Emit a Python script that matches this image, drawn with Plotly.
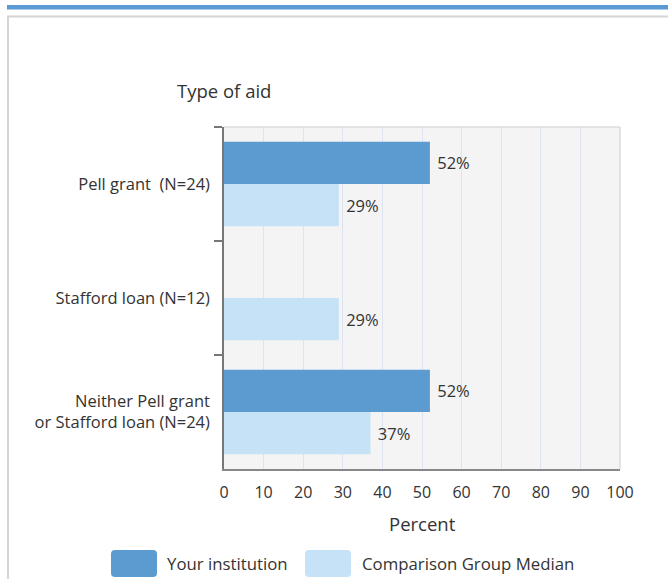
import plotly.graph_objects as go

categories = ["Pell grant\u00a0\u00a0(N=24)", "Stafford loan (N=12)", "Neither Pell grant<br>or Stafford loan (N=24)"]
your_institution = [52, None, 52]
comparison_median = [29, 29, 37]
series_names = ["Your institution", "Comparison Group Median"]
x_ticks = [0, 10, 20, 30, 40, 50, 60, 70, 80, 90, 100]

DARK = "#5B9BD0"
LIGHT = "#C5E2F6"
TXT = "#333333"
FONT = "Open Sans, Arial, sans-serif"

W, H = 668, 579
def px(x):
    return x / W
def py(y):
    return 1 - y / H

def lbl(v):
    return "" if v is None else f"\u00a0{v}%"

def rounded_rect(x0, y0, x1, y1, r):
    X = lambda v: px(v)
    Y = lambda v: py(v)
    return (f"M {X(x0+r)},{Y(y0)} L {X(x1-r)},{Y(y0)} Q {X(x1)},{Y(y0)} {X(x1)},{Y(y0+r)} "
            f"L {X(x1)},{Y(y1-r)} Q {X(x1)},{Y(y1)} {X(x1-r)},{Y(y1)} "
            f"L {X(x0+r)},{Y(y1)} Q {X(x0)},{Y(y1)} {X(x0)},{Y(y1-r)} "
            f"L {X(x0)},{Y(y0+r)} Q {X(x0)},{Y(y0)} {X(x0+r)},{Y(y0)} Z")

fig = go.Figure()
fig.add_trace(go.Bar(
    y=categories, x=your_institution, orientation="h", name=series_names[0],
    marker=dict(color=DARK, line=dict(width=0)),
    text=[lbl(v) for v in your_institution], textposition="outside",
    textfont=dict(size=16.5, color=TXT), cliponaxis=False, showlegend=False,
))
fig.add_trace(go.Bar(
    y=categories, x=comparison_median, orientation="h", name=series_names[1],
    marker=dict(color=LIGHT, line=dict(width=0)),
    text=[lbl(v) for v in comparison_median], textposition="outside",
    textfont=dict(size=16.5, color=TXT), cliponaxis=False, showlegend=False,
))

shapes = [
    dict(type="rect", xref="paper", yref="paper", x0=px(7), x1=1, y0=py(9.5), y1=py(5),
         fillcolor="#5B9BD5", line=dict(width=0), layer="below"),
    dict(type="line", xref="paper", yref="paper", x0=px(7), x1=1, y0=py(16.5), y1=py(16.5),
         line=dict(color="#D4D4D4", width=2)),
    dict(type="line", xref="paper", yref="paper", x0=px(8), x1=px(8), y0=py(16.5), y1=0,
         line=dict(color="#D4D4D4", width=2)),
    dict(type="line", xref="paper", yref="paper", x0=px(224), x1=px(620), y0=py(127), y1=py(127),
         line=dict(color="#DDDDDD", width=1.5)),
    dict(type="line", xref="paper", yref="paper", x0=px(620), x1=px(620), y0=py(127), y1=py(469),
         line=dict(color="#DDDDDD", width=1.5)),
    dict(type="path", xref="paper", yref="paper", path=rounded_rect(111, 550, 157, 577, 4),
         fillcolor=DARK, line=dict(width=0)),
    dict(type="path", xref="paper", yref="paper", path=rounded_rect(305, 550, 351, 577, 4),
         fillcolor=LIGHT, line=dict(width=0)),
]

annotations = [
    dict(text="Type of aid", xref="paper", yref="paper", x=px(224), y=py(90), xanchor="center",
         yanchor="middle", showarrow=False, font=dict(size=18.5, color=TXT, family=FONT)),
    dict(text=series_names[0], xref="paper", yref="paper", x=px(165), y=py(563), xanchor="left",
         yanchor="middle", showarrow=False, font=dict(size=16.8, color=TXT, family=FONT)),
    dict(text=series_names[1], xref="paper", yref="paper", x=px(360), y=py(563), xanchor="left",
         yanchor="middle", showarrow=False, font=dict(size=16.8, color=TXT, family=FONT)),
    dict(text="Percent", xref="paper", yref="paper", x=px(422), y=py(523), xanchor="center",
         yanchor="middle", showarrow=False, font=dict(size=18.5, color=TXT, family=FONT)),
]

fig.update_layout(
    width=W, height=H,
    margin=dict(l=0, r=0, t=0, b=0),
    paper_bgcolor="white", plot_bgcolor="#F4F4F4",
    barmode="group", bargap=0.26, bargroupgap=0,
    font=dict(family=FONT, size=16, color=TXT),
    shapes=shapes, annotations=annotations,
    xaxis=dict(
        domain=[px(224), px(620)], range=[0, 100], tickvals=x_ticks,
        showgrid=True, gridcolor="#DDE3F0", gridwidth=1,
        zeroline=False, showline=True, linecolor="#888888", linewidth=1.5,
        ticks="outside", ticklen=8, tickcolor="rgba(0,0,0,0)",
        tickfont=dict(size=16, color=TXT),
        automargin=False, fixedrange=True,
    ),
    yaxis=dict(
        domain=[py(469), py(127)], autorange="reversed",
        showgrid=False, zeroline=False, showline=True, linecolor="#777777", linewidth=1.5,
        ticks="outside", tickson="boundaries", ticklen=8, tickcolor="#777777", tickwidth=1.5,
        ticklabelstandoff=9,
        tickfont=dict(size=16.5, color=TXT), automargin=False, fixedrange=True,
    ),
)

fig.write_html("out.html", config={"displayModeBar": False},
               post_script="document.body.style.margin='0';document.body.style.overflow='hidden';")
